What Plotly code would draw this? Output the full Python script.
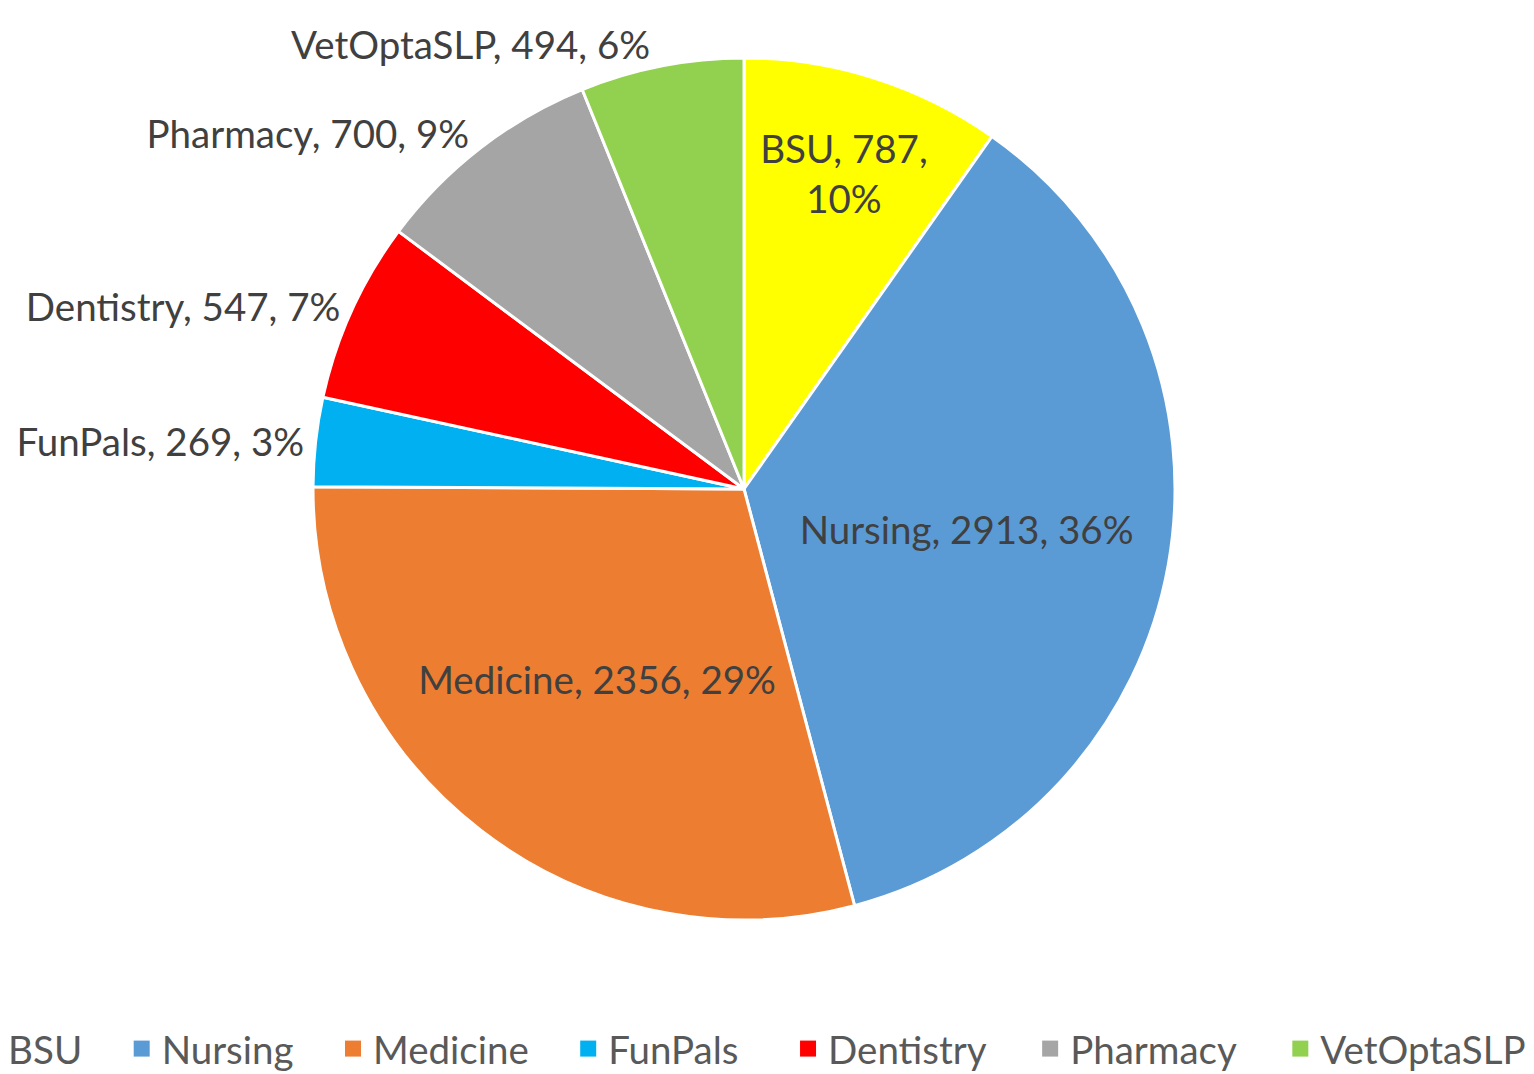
import plotly.graph_objects as go

labels = ["BSU", "Nursing", "Medicine", "FunPals", "Dentistry", "Pharmacy", "VetOptaSLP"]
values = [787, 2913, 2356, 269, 547, 700, 494]
colors = ["#FFFF00", "#5B9BD5", "#ED7D31", "#00B0F0", "#FF0000", "#A5A5A5", "#92D050"]
text_positions = ["inside", "inside", "inside", "outside", "outside", "outside", "outside"]
templates = [
    "%{label}, %{value},<br>%{percent:.0%}",
    "%{label}, %{value}, %{percent:.0%}",
    "%{label}, %{value}, %{percent:.0%}",
    "%{label}, %{value}, %{percent:.0%}",
    "%{label}, %{value}, %{percent:.0%}",
    "%{label}, %{value}, %{percent:.0%}",
    "%{label}, %{value}, %{percent:.0%}",
]
# which legend box each entry goes into (the legend row is split in two boxes)
legend_ids = ["legend", "legend", "legend", "legend", "legend2", "legend2", "legend2"]

FONT = "Lato"
FSIZE = 38.5
PAD1 = "\u2002\u2004\u200a"  # spacing after entries of the first box
PAD2 = "\u2002\u2002"        # spacing after entries of the second box

fig = go.Figure()
fig.add_trace(
    go.Pie(
        labels=labels,
        values=values,
        sort=False,
        direction="clockwise",
        rotation=0,
        domain=dict(x=[0, 0.9596], y=[0, 1]),
        marker=dict(colors=colors, line=dict(color="white", width=3)),
        textposition=text_positions,
        texttemplate=templates,
        textfont=dict(family=FONT, size=FSIZE, color="#404040"),
        insidetextorientation="horizontal",
        hoverinfo="label+value+percent",
        showlegend=False,
    )
)

# legend entries (square swatches like the original)
n = len(labels)
for i, (lab, col, lg) in enumerate(zip(labels, colors, legend_ids)):
    pad = "" if i == n - 1 else (PAD1 if lg == "legend" else PAD2)
    fig.add_trace(
        go.Scatter(
            x=[None], y=[None],
            mode="markers",
            name=lab + pad,
            marker=dict(symbol="square", size=16, color=col),
            hoverinfo="skip",
            legend=lg,
        )
    )

legend_common = dict(
    orientation="h",
    xref="paper",
    yref="paper",
    xanchor="left",
    y=-0.1126,
    yanchor="top",
    font=dict(family=FONT, size=FSIZE, color="#595959"),
    bgcolor="rgba(0,0,0,0)",
    itemsizing="trace",
)

fig.update_layout(
    width=1534,
    height=1074,
    paper_bgcolor="white",
    plot_bgcolor="white",
    margin=dict(l=0, r=0, t=50, b=162, autoexpand=False),
    uniformtext=dict(minsize=FSIZE, mode="show"),
    xaxis=dict(visible=False),
    yaxis=dict(visible=False),
    showlegend=True,
    legend=dict(x=-0.026, **legend_common),
    legend2=dict(x=0.5085, **legend_common),
)

fig.write_html("out.html")
